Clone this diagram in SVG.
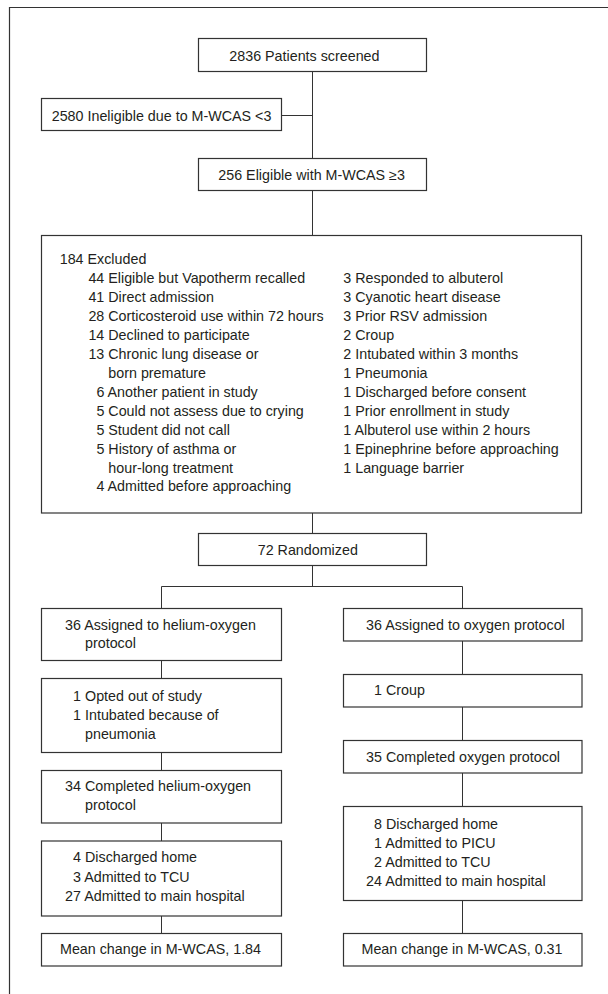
<svg xmlns="http://www.w3.org/2000/svg" width="608" height="994" viewBox="0 0 608 994">
<style>
.box{fill:#fff;stroke:#333;stroke-width:1.2}
.ln{fill:none;stroke:#333;stroke-width:1}
.frame{fill:none;stroke:#333;stroke-width:1.2}
text{font-family:"Liberation Sans",Arial,sans-serif;font-size:14.3px;fill:#231f20}
.c{text-anchor:middle}
</style>
<rect width="608" height="994" fill="#fff"/>
<path class="frame" d="M9.5,994 V7.5 H608"/>
<g id="connectors">
<path class="ln" d="M312.5,71.5 V158.5 M281.5,115.5 H312.5"/>
<path class="ln" d="M312.5,190.5 V235.5"/>
<path class="ln" d="M312.5,513 V533.5"/>
<path class="ln" d="M312.5,565.5 V586.5 M161.5,608.5 V586.5 H462.5 V608.5"/>
<path class="ln" d="M161.5,660.5 V678.5 M161.5,752.5 V770.5 M161.5,823 V841 M161.5,916 V933.5"/>
<path class="ln" d="M462.5,641 V674.5 M462.5,707 V740.5 M462.5,773 V806.5 M462.5,900.5 V933.5"/>
</g>
<g id="screened">
<rect class="box" x="198.5" y="38.5" width="228" height="33"/>
<text x="229.3" y="61">2836 Patients screened</text>
</g>
<g id="ineligible">
<rect class="box" x="41.5" y="98.5" width="240" height="32"/>
<text x="51.7" y="120.7">2580 Ineligible due to M-WCAS &lt;3</text>
</g>
<g id="eligible">
<rect class="box" x="198.5" y="158.5" width="228" height="32"/>
<text x="218.3" y="180.3">256 Eligible with M-WCAS ≥3</text>
</g>
<g id="excluded">
<rect class="box" x="41.5" y="235.5" width="540" height="277.5"/>
<text x="59.7" y="264">184 Excluded</text>
<text x="88.4" y="283">44 Eligible but Vapotherm recalled</text>
<text x="88.4" y="302">41 Direct admission</text>
<text x="88.4" y="321">28 Corticosteroid use within 72 hours</text>
<text x="88.4" y="340">14 Declined to participate</text>
<text x="88.4" y="358.8">13 Chronic lung disease or</text>
<text x="108.3" y="377.7">born premature</text>
<text x="96.4" y="396.7">6 Another patient in study</text>
<text x="96.4" y="415.6">5 Could not assess due to crying</text>
<text x="96.4" y="434.6">5 Student did not call</text>
<text x="96.4" y="453.5">5 History of asthma or</text>
<text x="108.3" y="472.5">hour-long treatment</text>
<text x="96.4" y="491.4">4 Admitted before approaching</text>
<text x="343.3" y="283">3 Responded to albuterol</text>
<text x="343.3" y="302">3 Cyanotic heart disease</text>
<text x="343.3" y="321">3 Prior RSV admission</text>
<text x="343.3" y="340">2 Croup</text>
<text x="343.3" y="358.8">2 Intubated within 3 months</text>
<text x="343.3" y="377.7">1 Pneumonia</text>
<text x="343.3" y="396.7">1 Discharged before consent</text>
<text x="343.3" y="415.6">1 Prior enrollment in study</text>
<text x="343.3" y="434.6">1 Albuterol use within 2 hours</text>
<text x="343.3" y="453.5">1 Epinephrine before approaching</text>
<text x="343.3" y="472.5">1 Language barrier</text>
</g>
<g id="randomized">
<rect class="box" x="198.5" y="533.5" width="228" height="32"/>
<text x="257.7" y="554.7">72 Randomized</text>
</g>
<g id="heliox-assigned">
<rect class="box" x="41.5" y="608.5" width="240" height="52"/>
<text x="65.1" y="629.7">36 Assigned to helium-oxygen</text>
<text x="85" y="648.3">protocol</text>
</g>
<g id="oxygen-assigned">
<rect class="box" x="343.5" y="608.5" width="238.5" height="32.5"/>
<text x="366.1" y="629.7">36 Assigned to oxygen protocol</text>
</g>
<g id="heliox-withdrawn">
<rect class="box" x="41.5" y="678.5" width="240" height="74"/>
<text x="73.1" y="701.3">1 Opted out of study</text>
<text x="73.1" y="720.3">1 Intubated because of</text>
<text x="85" y="739.3">pneumonia</text>
</g>
<g id="oxygen-withdrawn">
<rect class="box" x="343.5" y="674.5" width="238.5" height="32.5"/>
<text x="374.1" y="695.3">1 Croup</text>
</g>
<g id="heliox-completed">
<rect class="box" x="41.5" y="770.5" width="240" height="52.5"/>
<text x="65.1" y="791.3">34 Completed helium-oxygen</text>
<text x="85" y="810.3">protocol</text>
</g>
<g id="oxygen-completed">
<rect class="box" x="343.5" y="740.5" width="238.5" height="32.5"/>
<text x="366.1" y="762">35 Completed oxygen protocol</text>
</g>
<g id="heliox-disposition">
<rect class="box" x="41.5" y="841" width="240" height="75"/>
<text x="73.1" y="862">4 Discharged home</text>
<text x="73.1" y="881.7">3 Admitted to TCU</text>
<text x="65.1" y="901.3">27 Admitted to main hospital</text>
</g>
<g id="oxygen-disposition">
<rect class="box" x="343.5" y="806.5" width="238.5" height="94"/>
<text x="374.1" y="828.7">8 Discharged home</text>
<text x="374.1" y="847.7">1 Admitted to PICU</text>
<text x="374.1" y="866.8">2 Admitted to TCU</text>
<text x="366.1" y="886.3">24 Admitted to main hospital</text>
</g>
<g id="heliox-mean">
<rect class="box" x="41.5" y="933.5" width="240" height="32.5"/>
<text class="c" x="160.5" y="953.7">Mean change in M-WCAS, 1.84</text>
</g>
<g id="oxygen-mean">
<rect class="box" x="343.5" y="933.5" width="238.5" height="32.5"/>
<text class="c" x="462" y="953.7">Mean change in M-WCAS, 0.31</text>
</g>
</svg>
